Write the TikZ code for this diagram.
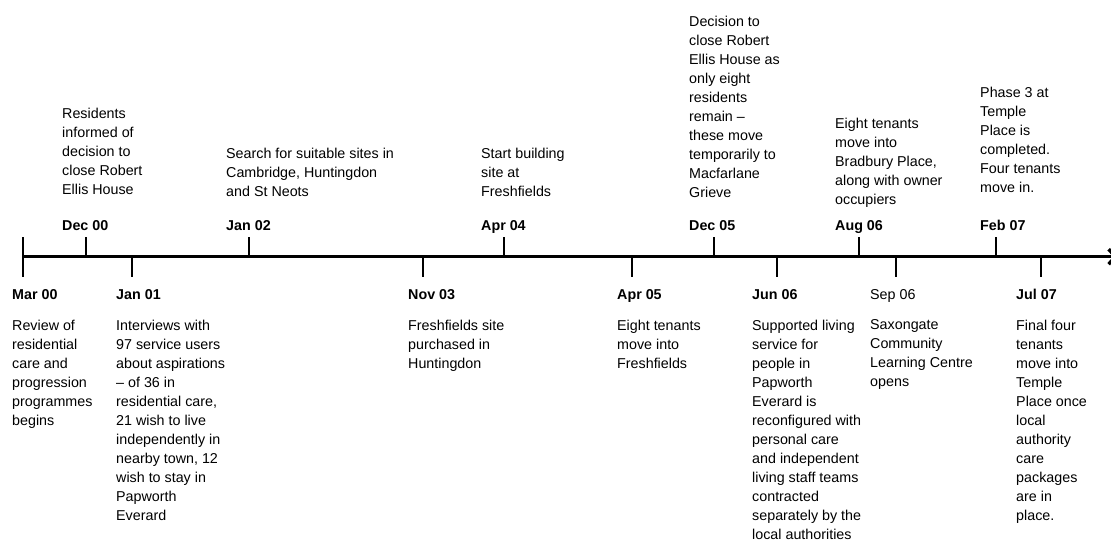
\documentclass[tikz,border=0pt]{standalone}
\usepackage{fontspec}
\setmainfont{Liberation Sans}
\usetikzlibrary{positioning,arrows.meta}
\tikzset{
    datelbl/.style={anchor=base west,inner sep=0pt,font=\fontsize{14.3pt}{19pt}\selectfont\bfseries},
    datelight/.style={datelbl,font=\fontsize{14.3pt}{19pt}\selectfont},
    eventtxt/.style={align=left,inner sep=0pt,font=\fontsize{14.3pt}{19pt}\selectfont},
    tickline/.style={line width=2.2pt},
}

\begin{document}
\begin{tikzpicture}[x=1pt,y=1pt]
    \useasboundingbox (0,0) rectangle (1111,540);
    % Axis
    \coordinate (start) at (22.7,283.3);
    \coordinate (end) at (1118,283.3);
    \draw[line width=3.5pt,-{Straight Barb[length=7pt,width=15pt]}] (start) -- (end);
    % Ticks
    \draw[tickline] (22.7,302.7) -- (22.7,263);
    \foreach \x in {86,249.3,504,713.7,859.3,995.7} {
        \draw[tickline] (\x,283.3) -- (\x,302.7);
    }
    \foreach \x in {131.7,422.7,631.7,777,895.7,1041} {
        \draw[tickline] (\x,283.3) -- (\x,263);
    }
    % Dates above
    \node[datelbl] (dec00) at (62,309.5) {Dec 00};
    \node[datelbl] (jan02) at (226,309.5) {Jan 02};
    \node[datelbl] (apr04) at (481,309.5) {Apr 04};
    \node[datelbl] (dec05) at (689,309.5) {Dec 05};
    \node[datelbl] (aug06) at (835,309.5) {Aug 06};
    \node[datelbl] (feb07) at (980,309.5) {Feb 07};
    % Dates below
    \node[datelbl] (mar00) at (12,240) {Mar 00};
    \node[datelbl] (jan01) at (116,240) {Jan 01};
    \node[datelbl] (nov03) at (408,240) {Nov 03};
    \node[datelbl] (apr05) at (617,240) {Apr 05};
    \node[datelbl] (jun06) at (752,240) {Jun 06};
    \node[datelight] (sep06) at (870,240) {Sep 06};
    \node[datelbl] (jul07) at (1016,240) {Jul 07};
    % Events above
    \node[eventtxt,above=25pt of dec00.north west,anchor=south west] (dec00-ev)
        {Residents\\informed of\\decision to\\close Robert\\Ellis House};
    \node[eventtxt,above=23pt of jan02.north west,anchor=south west] (jan02-ev)
        {Search for suitable sites in\\Cambridge, Huntingdon\\and St Neots};
    \node[eventtxt,above=23pt of apr04.north west,anchor=south west] (apr04-ev)
        {Start building\\site at\\Freshfields};
    \node[eventtxt,above=22pt of dec05.north west,anchor=south west] (dec05-ev)
        {Decision to\\close Robert\\Ellis House as\\only eight\\residents\\remain –\\these move\\temporarily to\\Macfarlane\\Grieve};
    \node[eventtxt,above=13pt of aug06.north west,anchor=south west] (aug06-ev)
        {Eight tenants\\move into\\Bradbury Place,\\along with owner\\occupiers};
    \node[eventtxt,above=27pt of feb07.north west,anchor=south west] (feb07-ev)
        {Phase 3 at\\Temple\\Place is\\completed.\\Four tenants\\move in.};
    % Events below
    \node[eventtxt,below=19.5pt of mar00.base west,anchor=north west] (mar00-ev)
        {Review of\\residential\\care and\\progression\\programmes\\begins};
    \node[eventtxt,below=19.5pt of jan01.base west,anchor=north west] (jan01-ev)
        {Interviews with\\97 service users\\about aspirations\\– of 36 in\\residential care,\\21 wish to live\\independently in\\nearby town, 12\\wish to stay in\\Papworth\\Everard};
    \node[eventtxt,below=19.5pt of nov03.base west,anchor=north west] (nov03-ev)
        {Freshfields site\\purchased in\\Huntingdon};
    \node[eventtxt,below=19.5pt of apr05.base west,anchor=north west] (apr05-ev)
        {Eight tenants\\move into\\Freshfields};
    \node[eventtxt,below=19.5pt of jun06.base west,anchor=north west] (jun06-ev)
        {Supported living\\service for\\people in\\Papworth\\Everard is\\reconfigured with\\personal care\\and independent\\living staff teams\\contracted\\separately by the\\local authorities};
    \node[eventtxt,below=19.5pt of sep06.base west,anchor=north west] (sep06-ev)
        {Saxongate\\Community\\Learning Centre\\opens};
    \node[eventtxt,below=19.5pt of jul07.base west,anchor=north west] (jul07-ev)
        {Final four\\tenants\\move into\\Temple\\Place once\\local\\authority\\care\\packages\\are in\\place.};
\end{tikzpicture}
\end{document}
